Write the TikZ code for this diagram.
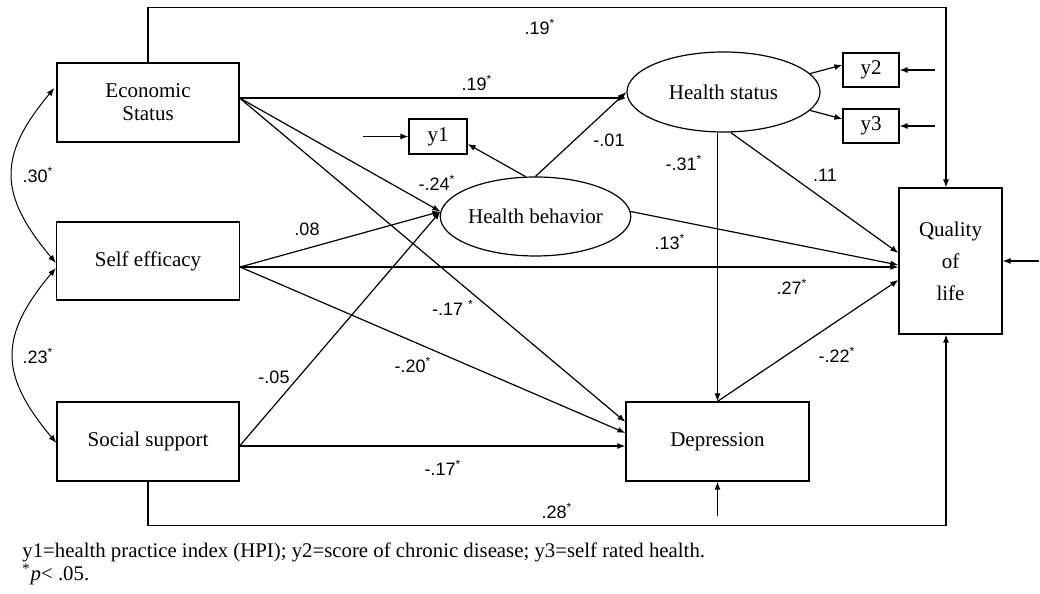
\documentclass[tikz,border=0pt]{standalone}
\usepackage{fontspec}
\setmainfont{Liberation Serif}
\newfontfamily\coeffont{Liberation Sans}
\usetikzlibrary{shapes.geometric,arrows.meta,calc,positioning}
\tikzset{
	box/.style={draw, line width=0.6pt, inner sep=0pt, align=center, font=\fontsize{10.5}{11.5}\selectfont},
	latent/.style={draw, ellipse, line width=0.6pt, inner sep=0pt, font=\fontsize{10.5}{12}\selectfont},
	coef/.style={inner sep=0pt, font=\coeffont\fontsize{9}{10}\selectfont},
	arr/.style={-{Latex[length=4pt,width=3pt]}, line width=0.6pt},
	corr/.style={{Latex[length=4pt,width=3pt]}-{Latex[length=4pt,width=3pt]}, line width=0.5pt},
	note/.style={anchor=base west, inner sep=0pt, font=\fontsize{10.4}{12}\selectfont}
}
\begin{document}
\begin{tikzpicture}[x=0.5pt, y=0.5pt]
			\useasboundingbox (0,0) rectangle (1040,594);
			% observed variables
			\node[box, minimum width=91pt, minimum height=39.5pt] (eco) at (148,491.5) {Economic\\Status};
			\node[box, minimum width=91.5pt, minimum height=39pt] (self) at (148,333) {Self efficacy};
			\node[box, minimum width=91pt, minimum height=39.5pt] (soc) at (148,152.5) {Social support};
			\node[box, minimum width=91.5pt, minimum height=39.5pt] (dep) at (717.5,152.5) {Depression};
			\node[box, minimum width=51.5pt, minimum height=73pt, font=\fontsize{10.5}{16}\selectfont] (qol) at (950.5,333) {Quality\\of\\life};
			\node[box, minimum width=29pt, minimum height=17.5pt] (y1) at (438,457.5) {y1};
			\node[box, minimum width=28pt, minimum height=17pt] (y2) at (871,524) {y2};
			\node[box, minimum width=28pt, minimum height=17pt] (y3) at (871,468) {y3};
			% latent variables
			\node[latent, minimum width=96.5pt, minimum height=40pt] (hs) at (723.5,502) {Health status};
			\node[latent, minimum width=91.5pt, minimum height=39.5pt] (hb) at (535.5,377.5) {Health behavior};
			% where the paths leave the boxes
			\coordinate (ecoout) at ($(eco.east)+(0,4.5)$);
			\coordinate (selfout) at ($(self.east)+(0,-6)$);
			\coordinate (socout) at ($(soc.east)+(0,-4.5)$);
			\coordinate (qoltop) at ($(qol.north)+(-4.5,0)$);
			\coordinate (qolbot) at ($(qol.south)+(-4.5,0)$);
			% error terms
			\coordinate (e1) at ($(y1.west)+(-45,0)$);
			\coordinate (e2) at ($(y2.east)+(35,0)$);
			\coordinate (e3) at ($(y3.east)+(35,0)$);
			\coordinate (e4) at ($(dep.south)+(0,-34)$);
			\coordinate (e5) at ($(qol.east)+(36,0)$);
			% paths
			\draw[arr] (eco.north) -- ++(0,55) -| (qoltop);
			\draw[arr] (soc.south) -- ++(0,-44) -| (qolbot);
			\draw[arr] (ecoout) -- (ecoout -| hs.west);
			\draw[arr] (ecoout) -- (hb.177);
			\draw[arr] (ecoout) -- ($(dep.west)+(0,19.5)$);
			\draw[arr] (selfout) -- (hb.177);
			\draw[arr] (selfout) -- ($(dep.west)+(0,8.5)$);
			\draw[arr] (selfout) -- (selfout -| qol.west);
			\draw[arr] (socout) -- (hb.177);
			\draw[arr] (socout) -- (socout -| dep.west);
			\draw[arr] (hb.104) -- ($(y1.east)+(0,-7.5)$);
			\draw[arr] (hb.north) -- (hs.west);
			\draw[arr] (hb.3) -- ($(qol.west)+(0,-4)$);
			\draw[arr] (hs.12) -- ($(y2.west)+(0,5)$);
			\draw[arr] (hs.-12) -- ($(y3.west)+(0,7)$);
			\draw[arr] (hs.-80) -- ($(qol.west)+(0,8)$);
			\draw[arr] (dep.north |- hs.south) -- (dep.north);
			\draw[arr] (dep.north) -- ($(qol.west)+(0,-19)$);
			\draw[arr] (e1) -- (y1.west);
			\draw[arr] (e2) -- (y2.east);
			\draw[arr] (e3) -- (y3.east);
			\draw[arr] (e4) -- (dep.south);
			\draw[arr] (e5) -- (qol.east);
			% correlations
			\draw[corr] ($(eco.west)+(-2,14.5)$) to[out=230, in=130, looseness=1.3] ($(self.west)+(0,-2)$);
			\draw[corr] ($(self.west)+(0,-7)$) to[out=230, in=130, looseness=1.3] ($(soc.west)+(0,-1.5)$);
			% coefficients
			\node[coef] (c-ecoqol) at (540,567) {.19\textsuperscript{*}};
			\node[coef] (c-ecohs) at (477,511) {.19\textsuperscript{*}};
			\node[coef] (c-ecohb) at (437,411) {-.24\textsuperscript{*}};
			\node[coef] (c-hbhs) at (609,454) {-.01};
			\node[coef] (c-hsdep) at (684,431) {-.31\textsuperscript{*}};
			\node[coef] (c-hsqol) at (825,419) {.11};
			\node[coef] (c-ecoself) at (38,419) {.30\textsuperscript{*}};
			\node[coef] (c-selfhb) at (307,365) {.08};
			\node[coef] (c-hbqol) at (670,352) {.13\textsuperscript{*}};
			\node[coef] (c-selfqol) at (792,307) {.27\textsuperscript{*}};
			\node[coef] (c-ecodep) at (453,286) {-.17 \textsuperscript{*}};
			\node[coef] (c-selfdep) at (413,229) {-.20\textsuperscript{*}};
			\node[coef] (c-sochb) at (274,217) {-.05};
			\node[coef] (c-selfsoc) at (38,238) {.23\textsuperscript{*}};
			\node[coef] (c-depqol) at (837,239) {-.22\textsuperscript{*}};
			\node[coef] (c-socdep) at (443,126) {-.17\textsuperscript{*}};
			\node[coef] (c-socqol) at (557,83) {.28\textsuperscript{*}};
			% footnote
			\node[note] (note1) at (22,36) {y1=health practice index (HPI); y2=score of chronic disease; y3=self rated health.};
			\node[note] (note2) at (22,13) {\textsuperscript{*}\textit{p}< .05.};
		\end{tikzpicture}
\end{document}
